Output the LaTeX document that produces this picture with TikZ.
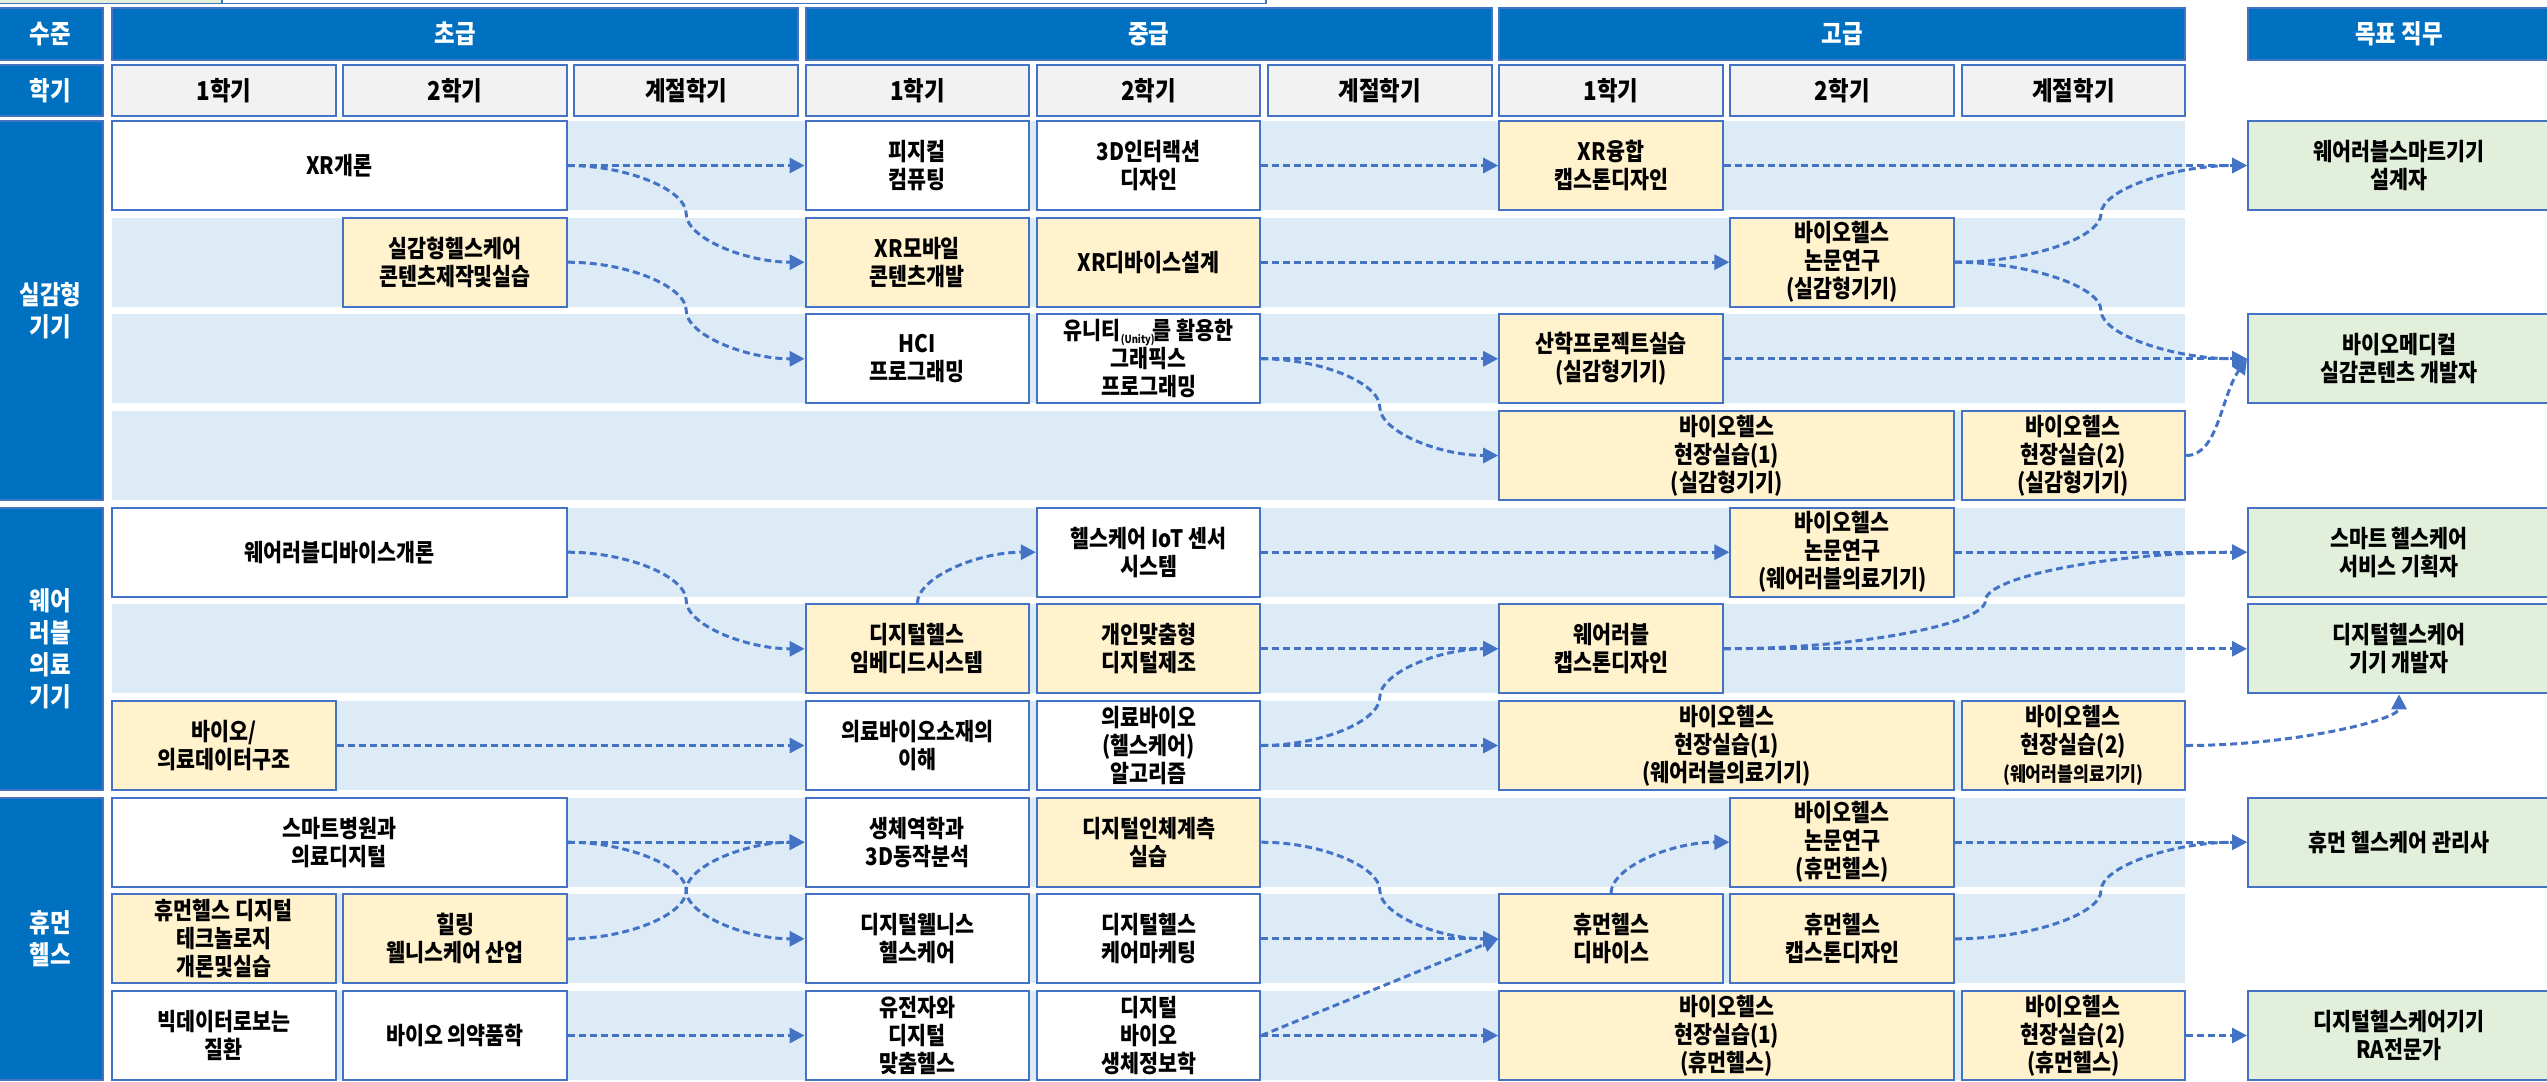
\documentclass[tikz,border=0pt]{standalone}
\usepackage{fontspec}
\setmainfont{Noto Sans CJK KR}[FakeStretch=0.86]
\usepackage{tikz}
\usetikzlibrary{arrows.meta}
\usetikzlibrary{calc}

\definecolor{headblue}{HTML}{0070C0}
\definecolor{boxblue}{HTML}{4472C4}
\definecolor{arrowblue}{HTML}{4472C4}
\definecolor{bandblue}{HTML}{DDEBF7}
\definecolor{coreyellow}{HTML}{FFF2CC}
\definecolor{jobgreen}{HTML}{E2EFDA}
\definecolor{termgray}{HTML}{F2F2F2}

\tikzset{
  course/.style={draw=boxblue, line width=2pt, fill=white, minimum width=223.6pt,
    minimum height=89pt, inner sep=0pt, align=center,
    font=\bfseries\fontsize{24}{28}\selectfont},
  hot/.style={course, fill=coreyellow},
  twocol/.style={minimum width=454.8pt},
  job/.style={course, fill=jobgreen, minimum width=302pt},
  term/.style={course, fill=termgray, minimum height=51pt,
    font=\bfseries\fontsize{26}{30}\selectfont},
  head/.style={draw=boxblue, line width=2pt, fill=headblue, text=white, inner sep=0pt,
    align=center, font=\bfseries\fontsize{26}{32}\selectfont},
  flow/.style={draw=arrowblue, line width=3pt, dash pattern=on 7pt off 4pt,
    -{Triangle[length=15pt,width=15pt]}},
  scurve/.style={to path={let \p1=(\tikztostart), \p2=(\tikztotarget) in
    .. controls ({0.75*\x1+0.25*\x2},\y1) and ({0.5*\x1+0.5*\x2},{0.75*\y1+0.25*\y2})
    .. ({0.5*\x1+0.5*\x2},{0.5*\y1+0.5*\y2})
    .. controls ({0.5*\x1+0.5*\x2},{0.25*\y1+0.75*\y2}) and ({0.25*\x1+0.75*\x2},\y2)
    .. (\p2) \tikztonodes}},
  vhcurve/.style={to path={let \p1=(\tikztostart), \p2=(\tikztotarget) in
    .. controls (\x1,{0.5*\y1+0.5*\y2}) and ({0.5*\x1+0.5*\x2},\y2) .. (\p2) \tikztonodes}},
  hvcurve/.style={to path={let \p1=(\tikztostart), \p2=(\tikztotarget) in
    .. controls ({0.5*\x1+0.5*\x2},\y1) and (\x2,{0.5*\y1+0.5*\y2}) .. (\p2) \tikztonodes}},
}

\begin{document}
\begin{tikzpicture}[x=1pt,y=-1pt]
            \useasboundingbox (0,0) rectangle (2547,1081);

            % cut-off strip at the top
            \draw[draw=boxblue, line width=1.5pt, fill=jobgreen] (-5,-20) rectangle (222,3.5);
            \draw[draw=boxblue, line width=1.5pt, fill=white] (222,-20) rectangle (1266,3.5);

            % row bands
            \fill[bandblue] (112,121) rectangle (2185.2,210);
            \fill[bandblue] (112,217.7) rectangle (2185.2,306.7);
            \fill[bandblue] (112,314.3) rectangle (2185.2,403.3);
            \fill[bandblue] (112,411) rectangle (2185.2,500);
            \fill[bandblue] (112,507.7) rectangle (2185.2,596.7);
            \fill[bandblue] (112,604.3) rectangle (2185.2,693.3);
            \fill[bandblue] (112,701) rectangle (2185.2,790);
            \fill[bandblue] (112,797.7) rectangle (2185.2,886.7);
            \fill[bandblue] (112,894.3) rectangle (2185.2,983.3);
            \fill[bandblue] (112,991) rectangle (2185.2,1080);

            % headers
            \node[head, minimum width=105pt, minimum height=52pt] (lvl) at (50.5,34) {수준};
            \node[head, minimum width=686pt, minimum height=52pt] (basic) at (455,34) {초급};
            \node[head, minimum width=686pt, minimum height=52pt] (middle) at (1148.6,34) {중급};
            \node[head, minimum width=686pt, minimum height=52pt] (advanced) at (1842.2,34) {고급};
            \node[head, minimum width=302pt, minimum height=52pt] (goal) at (2399,34) {목표 직무};

            \node[head, minimum width=105pt, minimum height=51pt] (sem) at (50.5,90.5) {학기};
            \node[term] (semba) at (223.8,90.5) {1학기};
            \node[term] (sembb) at (455,90.5) {2학기};
            \node[term] (sembc) at (686.2,90.5) {계절학기};
            \node[term] (semma) at (917.4,90.5) {1학기};
            \node[term] (semmb) at (1148.6,90.5) {2학기};
            \node[term] (semmc) at (1379.8,90.5) {계절학기};
            \node[term] (semaa) at (1611,90.5) {1학기};
            \node[term] (semab) at (1842.2,90.5) {2학기};
            \node[term] (semac) at (2073.4,90.5) {계절학기};

            \node[head, minimum width=105pt, minimum height=379pt] (catxr) at (50.5,310.5) {실감형\\기기};
            \node[head, minimum width=105pt, minimum height=282.3pt] (catwear) at (50.5,648.8) {웨어\\러블\\의료\\기기};
            \node[head, minimum width=105pt, minimum height=282.3pt] (cathum) at (50.5,938.8) {휴먼\\헬스};

            % 실감형 기기
            \node[course, twocol] (xrintro) at (339.4,165.5) {XR개론};
            \node[course] (physcomp) at (917.4,165.5) {피지컬\\컴퓨팅};
            \node[course] (interact) at (1148.6,165.5) {3D인터랙션\\디자인};
            \node[hot] (xrcap) at (1611,165.5) {XR융합\\캡스톤디자인};
            \node[job] (jobwear) at (2399,165.5) {웨어러블스마트기기\\설계자};

            \node[hot] (xrcontent) at (455,262.2) {실감형헬스케어\\콘텐츠제작및실습};
            \node[hot] (xrmobile) at (917.4,262.2) {XR모바일\\콘텐츠개발};
            \node[hot] (xrdevice) at (1148.6,262.2) {XR디바이스설계};
            \node[hot] (paperxr) at (1842.2,262.2) {바이오헬스\\논문연구\\(실감형기기)};

            \node[course] (hci) at (917.4,358.8) {HCI\\프로그래밍};
            \node[course] (unity) at (1148.6,358.8) {유니티\raisebox{-4pt}{\fontsize{11}{11}\selectfont(Unity)}\kern-2pt를 활용한\\그래픽스\\프로그래밍};
            \node[hot] (industry) at (1611,358.8) {산학프로젝트실습\\(실감형기기)};
            \node[job] (jobbiomed) at (2399,358.8) {바이오메디컬\\실감콘텐츠 개발자};

            \node[hot, twocol] (fieldxra) at (1726.6,455.5) {바이오헬스\\현장실습(1)\\(실감형기기)};
            \node[hot] (fieldxrb) at (2073.4,455.5) {바이오헬스\\현장실습(2)\\(실감형기기)};

            % 웨어러블 의료기기
            \node[course, twocol] (wearintro) at (339.4,552.2) {웨어러블디바이스개론};
            \node[course] (iot) at (1148.6,552.2) {헬스케어 IoT 센서\\시스템};
            \node[hot] (paperwear) at (1842.2,552.2) {바이오헬스\\논문연구\\(웨어러블의료기기)};
            \node[job] (jobservice) at (2399,552.2) {스마트 헬스케어\\서비스 기획자};

            \node[hot] (embedded) at (917.4,648.8) {디지털헬스\\임베디드시스템};
            \node[hot] (custom) at (1148.6,648.8) {개인맞춤형\\디지털제조};
            \node[hot] (wearcap) at (1611,648.8) {웨어러블\\캡스톤디자인};
            \node[job] (jobdevice) at (2399,648.8) {디지털헬스케어\\기기 개발자};

            \node[hot] (datastruct) at (223.8,745.5) {바이오/\\의료데이터구조};
            \node[course] (material) at (917.4,745.5) {의료바이오소재의\\이해};
            \node[course] (algo) at (1148.6,745.5) {의료바이오\\(헬스케어)\\알고리즘};
            \node[hot, twocol] (fieldweara) at (1726.6,745.5) {바이오헬스\\현장실습(1)\\(웨어러블의료기기)};
            \node[hot] (fieldwearb) at (2073.4,745.5) {바이오헬스\\현장실습(2)\\{\fontsize{20}{28}\selectfont(웨어러블의료기기)}};

            % 휴먼 헬스
            \node[course, twocol] (hospital) at (339.4,842.2) {스마트병원과\\의료디지털};
            \node[course] (biomech) at (917.4,842.2) {생체역학과\\3D동작분석};
            \node[hot] (anthro) at (1148.6,842.2) {디지털인체계측\\실습};
            \node[hot] (paperhum) at (1842.2,842.2) {바이오헬스\\논문연구\\(휴먼헬스)};
            \node[job] (jobcare) at (2399,842.2) {휴먼 헬스케어 관리사};

            \node[hot] (humtech) at (223.8,938.8) {휴먼헬스 디지털\\테크놀로지\\개론및실습};
            \node[hot] (healing) at (455,938.8) {힐링\\웰니스케어 산업};
            \node[course] (wellness) at (917.4,938.8) {디지털웰니스\\헬스케어};
            \node[course] (marketing) at (1148.6,938.8) {디지털헬스\\케어마케팅};
            \node[hot] (humdevice) at (1611,938.8) {휴먼헬스\\디바이스};
            \node[hot] (humcap) at (1842.2,938.8) {휴먼헬스\\캡스톤디자인};

            \node[course] (bigdata) at (223.8,1035.5) {빅데이터로보는\\질환};
            \node[course] (pharma) at (455,1035.5) {바이오 의약품학};
            \node[course] (genome) at (917.4,1035.5) {유전자와\\디지털\\맞춤헬스};
            \node[course] (bioinfo) at (1148.6,1035.5) {디지털\\바이오\\생체정보학};
            \node[hot, twocol] (fieldhuma) at (1726.6,1035.5) {바이오헬스\\현장실습(1)\\(휴먼헬스)};
            \node[hot] (fieldhumb) at (2073.4,1035.5) {바이오헬스\\현장실습(2)\\(휴먼헬스)};
            \node[job] (jobra) at (2399,1035.5) {디지털헬스케어기기\\RA전문가};

            % connectors
            \draw[flow] (xrintro.east) -- (physcomp.west);
            \draw[flow] (xrintro.east) to[scurve] (xrmobile.west);
            \draw[flow] (interact.east) -- (xrcap.west);
            \draw[flow] (xrcap.east) -- (jobwear.west);
            \draw[flow] (xrcontent.east) to[scurve] (hci.west);
            \draw[flow] (xrdevice.east) -- (paperxr.west);
            \draw[flow] (paperxr.east) to[scurve] (jobwear.west);
            \draw[flow] (paperxr.east) to[scurve] (jobbiomed.west);
            \draw[flow] (unity.east) -- (industry.west);
            \draw[flow] (unity.east) to[scurve] (fieldxra.west);
            \draw[flow] (industry.east) -- (jobbiomed.west);
            \draw[flow] (fieldxrb.east) .. controls +(32,0) and +(-26,37) .. (jobbiomed.west);

            \draw[flow] (wearintro.east) to[scurve] (embedded.west);
            \draw[flow] (embedded.north) to[vhcurve] (iot.west);
            \draw[flow] (iot.east) -- (paperwear.west);
            \draw[flow] (paperwear.east) -- (jobservice.west);
            \draw[flow] (custom.east) -- (wearcap.west);
            \draw[flow] (wearcap.east) to[scurve] (jobservice.west);
            \draw[flow] (wearcap.east) -- (jobdevice.west);
            \draw[flow] (datastruct.east) -- (material.west);
            \draw[flow] (algo.east) -- (fieldweara.west);
            \draw[flow] (algo.east) to[scurve] (wearcap.west);
            \draw[flow] (fieldwearb.east) to[hvcurve] (jobdevice.south);

            \draw[flow] (hospital.east) -- (biomech.west);
            \draw[flow] (hospital.east) to[scurve] (wellness.west);
            \draw[flow] (healing.east) to[scurve] (biomech.west);
            \draw[flow] (anthro.east) to[scurve] (humdevice.west);
            \draw[flow] (paperhum.east) -- (jobcare.west);
            \draw[flow] (marketing.east) -- (humdevice.west);
            \draw[flow] (humdevice.north) to[vhcurve] (paperhum.west);
            \draw[flow] (humcap.east) to[scurve] (jobcare.west);
            \draw[flow] (pharma.east) -- (genome.west);
            \draw[flow] (bioinfo.east) -- (humdevice.west);
            \draw[flow] (bioinfo.east) -- (fieldhuma.west);
            \draw[flow] (fieldhumb.east) -- (jobra.west);
        \end{tikzpicture}
\end{document}
